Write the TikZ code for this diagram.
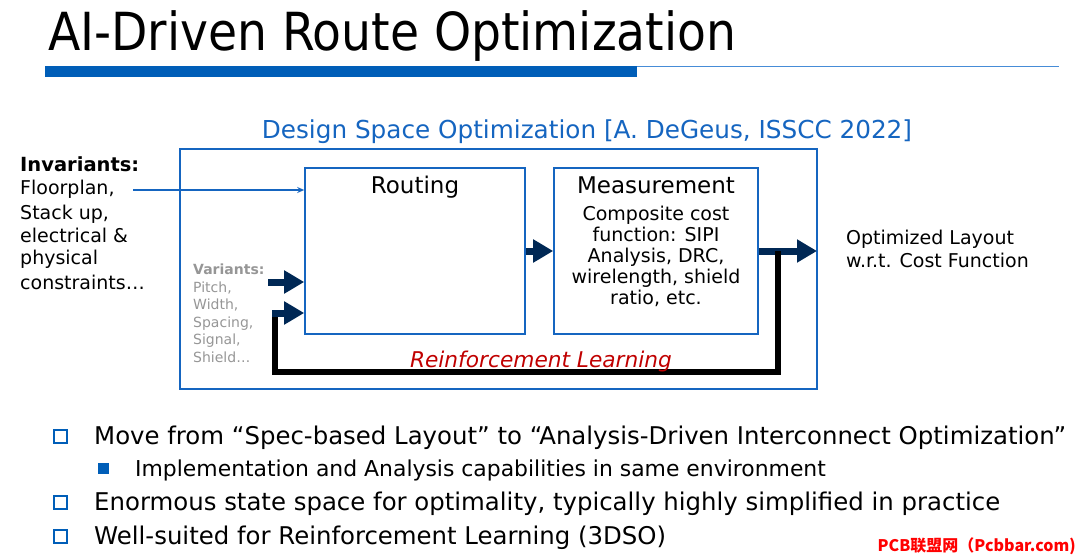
\documentclass[tikz,border=0pt]{standalone}
\usepackage{fontspec}
\setmainfont{DejaVu Sans}
\newfontfamily\titlefont{DejaVu Sans Condensed}
\newfontfamily\cjkfont{Noto Sans CJK SC}
\usetikzlibrary{arrows.meta}
\definecolor{sblue}{RGB}{0,94,184}
\definecolor{lblue}{RGB}{70,140,215}
\definecolor{boxblue}{RGB}{21,101,192}
\definecolor{navy}{RGB}{0,40,85}
\definecolor{vgray}{RGB}{150,150,150}
\definecolor{rlred}{RGB}{192,0,0}
\definecolor{wmred}{RGB}{255,0,0}
\tikzset{
  x=1pt,y=-1pt,
  blk/.style={draw=boxblue,line width=1.6pt},
  navyarrow/.style={navy,line width=7pt,-{Triangle[length=20pt,width=22pt]}},
  txt/.style={inner sep=0pt,anchor=base west,font=\fontsize{19}{21}\selectfont},
  vtxt/.style={inner sep=0pt,anchor=base west,font=\fontsize{14}{16}\selectfont,text=vgray},
  bul/.style={inner sep=0pt,anchor=base west,font=\fontsize{24.4}{26}\selectfont},
  hsq/.style={draw=sblue,line width=2pt,minimum size=13pt,inner sep=0pt},
}
\begin{document}
\begin{tikzpicture}
\useasboundingbox (0,0) rectangle (1080,559);
% title
\node[inner sep=0pt,anchor=base west,font=\titlefont\fontsize{52.5}{54}\selectfont] (title) at (48,51) {AI-Driven Route Optimization};
\fill[sblue] (45,66) rectangle (637,77);
\draw[lblue,line width=1.2pt] (637,66.8) -- (1059,66.8);
% outer box
\node[inner sep=0pt,anchor=base,font=\fontsize{24.7}{26}\selectfont,text=boxblue] (dso) at (587,139) {Design Space Optimization [A. DeGeus, ISSCC 2022]};
\draw[blk] (180,149) rectangle (817,389);
% routing box
\node[blk,minimum width=220pt,minimum height=166pt,inner sep=0pt] (routing) at (415,251) {};
\node[inner sep=0pt,anchor=base,font=\fontsize{23}{25}\selectfont] (rlbl) at (415,194) {Routing};
% measurement
\node[blk,minimum width=204pt,minimum height=166pt,inner sep=0pt] (meas) at (656,251) {};
\node[inner sep=0pt,anchor=base,font=\fontsize{23}{25}\selectfont] (mlbl) at (656,194) {Measurement};
\node[inner sep=0pt,anchor=north,align=center,font=\fontsize{19}{21}\selectfont] (mtext) at (656,206) {Composite cost\\function: SIPI\\Analysis, DRC,\\wirelength, shield\\ratio, etc.};
% invariants
\node[txt,font=\bfseries\fontsize{19.5}{21}\selectfont] (inv) at (20,172) {Invariants:};
\node[txt] (inv1) at (20,195) {Floorplan,};
\node[txt] (inv2) at (20,219) {Stack up,};
\node[txt] (inv3) at (20,242) {electrical \&};
\node[txt] (inv4) at (20,265) {physical};
\node[txt] (inv5) at (20,289) {constraints…};
\coordinate (invstart) at (133,190);
\draw[boxblue,line width=1.6pt,-{Stealth[length=7pt,width=6pt]}] (invstart) -- (routing.west |- invstart);
% variants
\node[vtxt,font=\bfseries\fontsize{14}{16}\selectfont] (var) at (193,274) {Variants:};
\node[vtxt] (v1) at (193,292) {Pitch,};
\node[vtxt] (v2) at (193,309) {Width,};
\node[vtxt] (v3) at (193,327) {Spacing,};
\node[vtxt] (v4) at (193,344) {Signal,};
\node[vtxt] (v5) at (193,362) {Shield…};
% arrows
\coordinate (va) at (268,282);
\draw[navyarrow] (va) -- (routing.west |- va);
\draw[navyarrow] (routing.east |- 0,251) -- (meas.west |- 0,251);
\coordinate (outend) at (817,251);
\draw[navyarrow] (meas.east |- outend) -- (outend);
% feedback
\coordinate (fb1) at (778,251);
\coordinate (fb2) at (778,372);
\coordinate (fb3) at (275,372);
\coordinate (fb4) at (275,311);
\draw[black,line width=6pt,line join=miter] (fb1) -- (fb2) -- (fb3) -- (fb4);
\coordinate (fb5) at (272,313);
\draw[navyarrow] (fb5) -- (routing.west |- fb5);
\node[inner sep=0pt,anchor=base,font=\itshape\fontsize{21.7}{23}\selectfont,text=rlred] (rl) at (541,367) {Reinforcement Learning};
% output
\node[txt] (o1) at (846,244) {Optimized Layout};
\node[txt] (o2) at (846,267) {w.r.t. Cost Function};
% bullets
\node[hsq] (b1) at (60,436) {};
\node[bul] (t1) at (94,444) {Move from “Spec-based Layout” to “Analysis-Driven Interconnect Optimization”};
\node[fill=sblue,minimum size=11pt,inner sep=0pt] (b1a) at (103,468) {};
\node[txt,font=\fontsize{21.9}{23}\selectfont] (t1a) at (135,476) {Implementation and Analysis capabilities in same environment};
\node[hsq] (b2) at (60,502) {};
\node[bul] (t2) at (94,510) {Enormous state space for optimality, typically highly simplified in practice};
\node[hsq] (b3) at (60,536) {};
\node[bul] (t3) at (94,544) {Well-suited for Reinforcement Learning (3DSO)};
% watermark
\node[inner sep=0pt,anchor=base east,font=\cjkfont\bfseries\fontsize{16}{18}\selectfont,text=wmred] (wm) at (1076,551) {PCB联盟网（Pcbbar.com)};
\end{tikzpicture}
\end{document}
